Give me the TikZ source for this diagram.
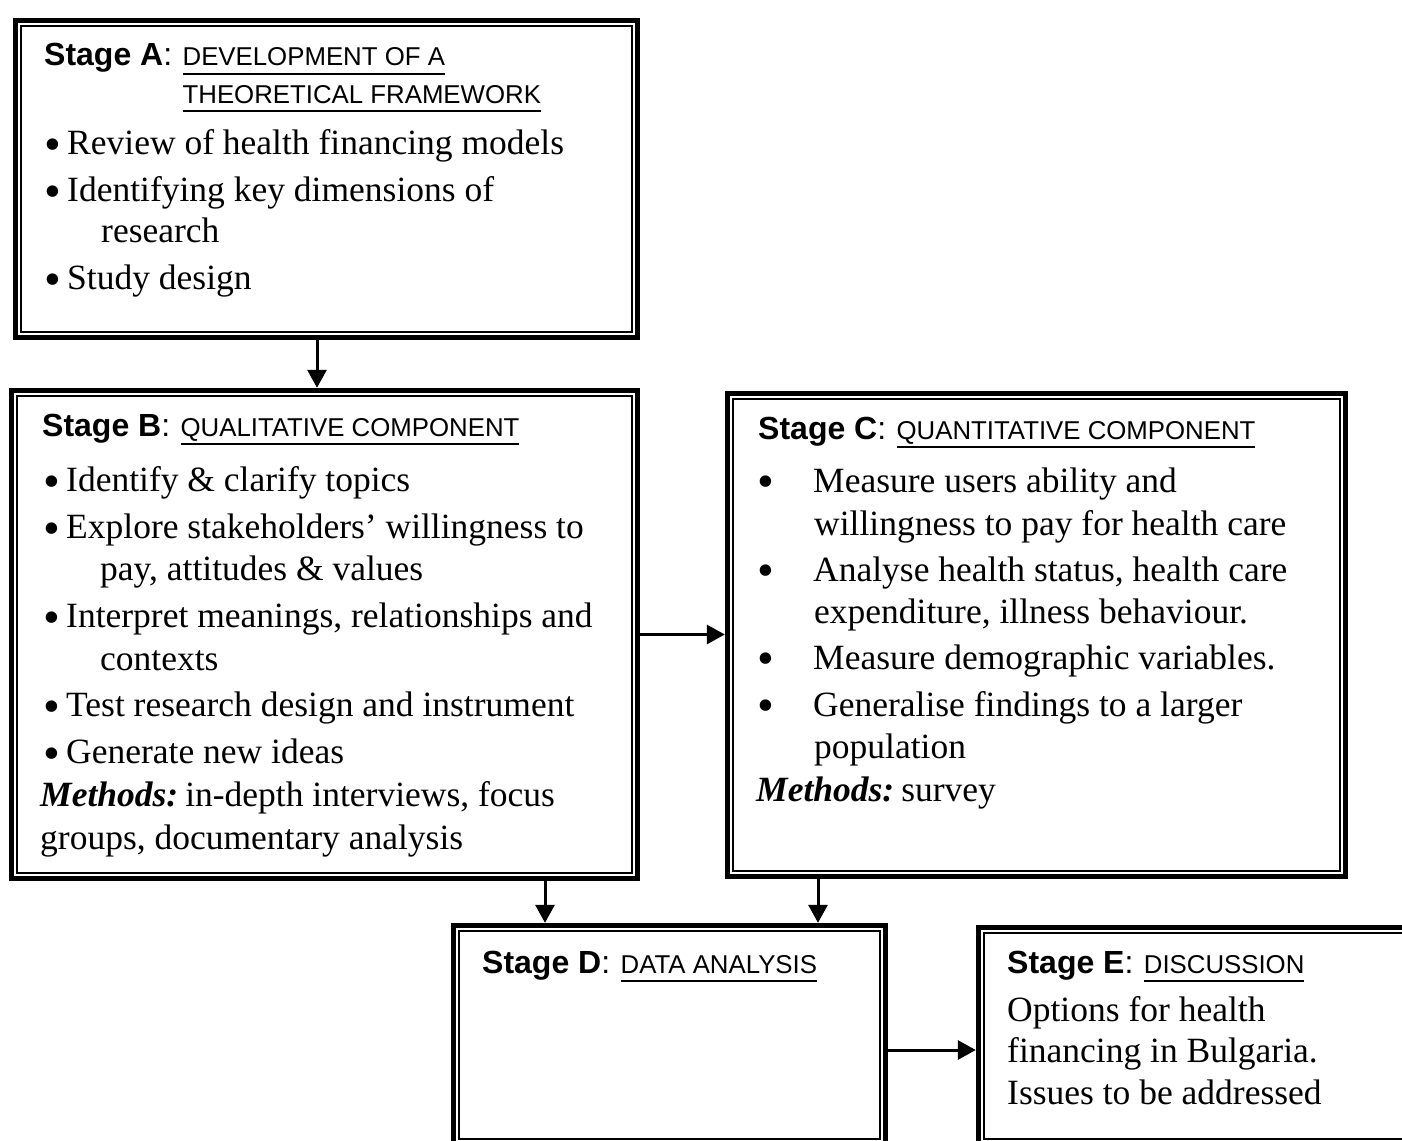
\documentclass[tikz,border=0pt]{standalone}
\usepackage{fontspec}
\setmainfont{Liberation Serif}
\setsansfont{Liberation Sans}
\usetikzlibrary{arrows.meta,calc}

% underlined heading text
\newcommand\hdul[1]{\setbox0=\hbox{#1}\rlap{\rule[-9pt]{\wd0}{1.6pt}}\box0}
\newcommand\bodysize{\fontsize{35.5pt}{42pt}\selectfont}
\newcommand\bigdot{\fontsize{48pt}{48pt}\selectfont\textbullet}
\newcommand\itembullet{\makebox[23pt][l]{\raisebox{-6.5pt}{\bigdot}}}
\newcommand\wideitem{\makebox[56pt][l]{\raisebox{-5pt}{\bigdot}}}
\newcommand\methods{\textbf{\textit{Methods:}}\hspace{7pt}}

\begin{document}
\begin{tikzpicture}[x=1pt,y=-1pt,
  stagebox/.style={draw=none,inner sep=0pt,rectangle},
  body/.style={anchor=base west,inner sep=0pt,font=\bodysize},
  stg/.style={anchor=base west,inner sep=0pt,font=\sffamily\bfseries\fontsize{32pt}{36pt}\selectfont},
  ttl/.style={anchor=base west,inner sep=0pt,xshift=10pt,font=\sffamily\fontsize{25.8pt}{30pt}\selectfont},
  arr/.style={line width=3pt,-{Triangle[length=18pt,width=19pt]}},
  outerline/.style={line width=5pt},
  innerline/.style={line width=1.8pt}]

\path[use as bounding box,fill=white] (0,0) rectangle (1402,1140);
\clip (0,0) rectangle (1402,1140);

% stage boxes (outer extents)
\node[stagebox,minimum width=627pt,minimum height=322pt] (boxA) at (326.5,179) {};
\node[stagebox,minimum width=631pt,minimum height=493pt] (boxB) at (324.5,634.5) {};
\node[stagebox,minimum width=623pt,minimum height=488pt] (boxC) at (1036.5,635) {};
\node[stagebox,minimum width=437pt,minimum height=224pt] (boxD) at (669.5,1035) {};
\node[stagebox,minimum width=444pt,minimum height=222pt] (boxE) at (1198,1036) {};

% thick-thin frames
\foreach \b in {boxA,boxB,boxC,boxD,boxE}{
  \draw[outerline] ([shift={(2.5,2.5)}]\b.north west) rectangle ([shift={(-2.5,-2.5)}]\b.south east);
  \draw[innerline] ([shift={(8,8)}]\b.north west) rectangle ([shift={(-8,-8)}]\b.south east);
}

% Stage A
\node[stg] (a0) at (44,66) {Stage A\mdseries:};
\node[ttl] (a1) at (a0.base east) {\hdul{DEVELOPMENT OF A}};
\node[anchor=base west,inner sep=0pt,font=\sffamily\fontsize{25.8pt}{30pt}\selectfont] (a2) at (a1.base west |- 0,103) {\hdul{THEORETICAL FRAMEWORK}};
\node[body] (a3) at (44,154) {\itembullet Review of health financing models};
\node[body] (a4) at (44,201) {\itembullet Identifying key dimensions of};
\node[body] (a5) at (101,242) {research};
\node[body] (a6) at (44,289) {\itembullet Study design};

% Stage B
\node[stg] (b0) at (42,436) {Stage B\mdseries:};
\node[ttl] (b1) at (b0.base east) {\hdul{QUALITATIVE COMPONENT}};
\node[body] (b2) at (43,491) {\itembullet Identify \& clarify topics};
\node[body] (b3) at (43,538) {\itembullet Explore stakeholders’ willingness to};
\node[body] (b4) at (100,580) {pay, attitudes \& values};
\node[body] (b5) at (43,627) {\itembullet Interpret meanings, relationships and};
\node[body] (b6) at (100,670) {contexts};
\node[body] (b7) at (43,716) {\itembullet Test research design and instrument};
\node[body] (b8) at (43,763) {\itembullet Generate new ideas};
\node[body] (b9) at (40,806) {\methods in-depth interviews, focus};
\node[body] (b10) at (40,849) {groups, documentary analysis};

% Stage C
\node[stg] (c0) at (758,439) {Stage C\mdseries:};
\node[ttl] (c1) at (c0.base east) {\hdul{QUANTITATIVE COMPONENT}};
\node[body] (c2) at (757,492) {\wideitem Measure users ability and};
\node[body] (c3) at (814,535) {willingness to pay for health care};
\node[body] (c4) at (757,581) {\wideitem Analyse health status, health care};
\node[body] (c5) at (814,623) {expenditure, illness behaviour.};
\node[body] (c6) at (757,669) {\wideitem Measure demographic variables.};
\node[body] (c7) at (757,716) {\wideitem Generalise findings to a larger};
\node[body] (c8) at (814,758) {population};
\node[body] (c9) at (756,801) {\methods survey};

% Stage D
\node[stg] (d0) at (482,973) {Stage D\mdseries:};
\node[ttl] (d1) at (d0.base east) {\hdul{DATA ANALYSIS}};

% Stage E
\node[stg] (e0) at (1007,973) {Stage E\mdseries:};
\node[ttl] (e1) at (e0.base east) {\hdul{DISCUSSION}};
\node[body] (e2) at (1007,1021) {Options for health};
\node[body] (e3) at (1007,1062) {financing in Bulgaria.};
\node[body] (e4) at (1007,1104) {Issues to be addressed};

% connectors
\coordinate (ab) at (317,0);
\coordinate (bd) at (545,0);
\coordinate (cd) at (818,0);
\coordinate (de) at (0,1050);
\draw[arr] (boxA.south -| ab) -- (boxB.north -| ab);
\draw[arr] (boxB.east) -- (boxB.east -| boxC.west);
\draw[arr] (boxB.south -| bd) -- (boxD.north -| bd);
\draw[arr] (boxC.south -| cd) -- (boxD.north -| cd);
\draw[arr] (boxD.east |- de) -- (boxE.west |- de);
\end{tikzpicture}
\end{document}
